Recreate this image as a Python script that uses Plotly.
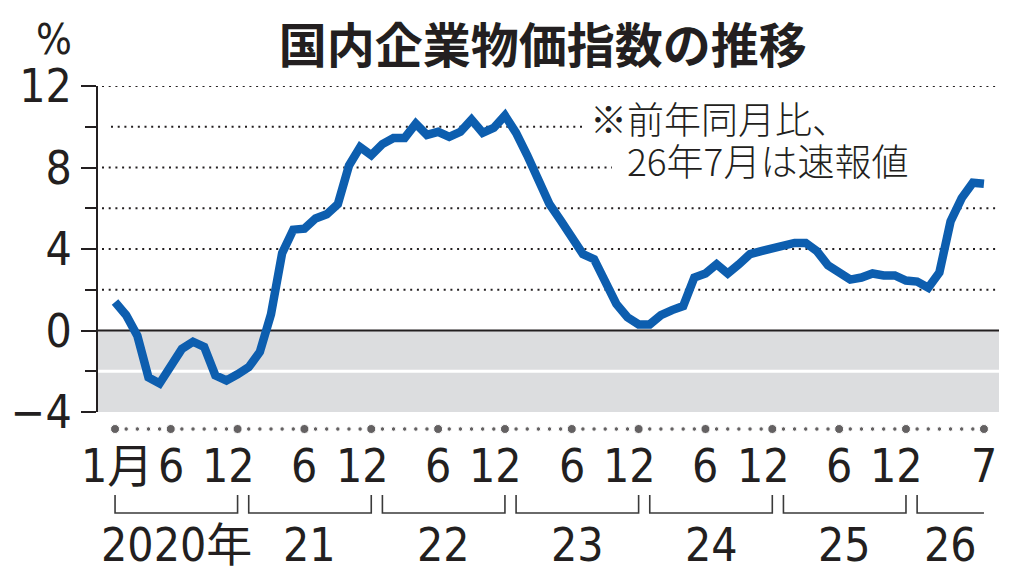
import plotly.graph_objects as go

# 国内企業物価指数 前年同月比(%) 2020年1月〜2026年7月
values = [
    1.4, 0.75, -0.25, -2.3, -2.6, -1.7, -0.9, -0.55, -0.8, -2.2, -2.45, -2.15,   # 2020
    -1.8, -1.05, 0.8, 3.8, 4.95, 5.0, 5.5, 5.7, 6.2, 8.1, 9.0, 8.6,              # 2021
    9.15, 9.45, 9.45, 10.15, 9.6, 9.75, 9.5, 9.75, 10.35, 9.7, 9.95, 10.55,      # 2022
    9.7, 8.6, 7.5, 6.2, 5.4, 4.55, 3.75, 3.5, 2.45, 1.3, 0.65, 0.3,              # 2023
    0.3, 0.75, 1.0, 1.2, 2.6, 2.8, 3.25, 2.8, 3.25, 3.75, 3.9, 4.05,             # 2024
    4.2, 4.3, 4.3, 3.9, 3.2, 2.85, 2.5, 2.6, 2.8, 2.7, 2.7, 2.45,                # 2025
    2.4, 2.1, 2.85, 5.35, 6.5, 7.25, 7.2,                                         # 2026
]
months = list(range(len(values)))

month_ticks = [0, 5, 11, 17, 23, 29, 35, 41, 47, 53, 59, 65, 71, 78]
month_labels = ["1月", "6", "12", "6", "12", "6", "12", "6", "12", "6", "12", "6", "12", "7"]
year_labels = ["2020年", "21", "22", "23", "24", "25", "26"]
year_start = [0, 12, 24, 36, 48, 60, 72]
year_end = [11, 23, 35, 47, 59, 71, 78]

y_major = [12, 8, 4, 0, -4]
y_grid = [2, 4, 6, 8, 10, 12]

BLUE = "#0d5eaf"
INK = "#231f20"
GRAY = "#dcdddf"
NUM_FONT = "Liberation Sans Narrow, DejaVu Sans Condensed, Noto Sans CJK JP, sans-serif"
JP_FONT = "Noto Sans CJK JP, sans-serif"

fig = go.Figure()

# ---- 折れ線 ----
fig.add_trace(go.Scatter(
    x=months, y=values, mode="lines",
    line=dict(color=BLUE, width=8.5, shape="linear"),
    xaxis="x", yaxis="y", hoverinfo="skip", showlegend=False,
))

# ---- 下の目盛り(点) ----
big = set(month_ticks)
fig.add_trace(go.Scatter(
    x=months, y=[-17] * len(months), mode="markers",
    marker=dict(color=INK, size=[9 if m in big else 4.5 for m in months]),
    xaxis="x2", yaxis="y2", hoverinfo="skip", showlegend=False,
))

# ---- 年の括弧 ----
bx, by = [], []
for i, (s, e) in enumerate(zip(year_start, year_end)):
    if i < len(year_start) - 1:
        bx += [s, s, e, e, None]
        by += [-83, -101, -101, -83, None]
    else:
        bx += [s, s, e, None]
        by += [-83, -101, -101, None]
fig.add_trace(go.Scatter(
    x=bx, y=by, mode="lines", line=dict(color="#3a3a3a", width=1.6),
    xaxis="x2", yaxis="y2", hoverinfo="skip", showlegend=False,
))

annotations = []
for m, lab in zip(month_ticks, month_labels):
    annotations.append(dict(
        x=m, y=-54, xref="x2", yref="y2", text=lab, showarrow=False,
        xshift=-9 if lab == "12" else (2 if lab == "1月" else 0),
        yanchor="middle",
        font=dict(family=NUM_FONT, size=46, color=INK),
    ))
for s, e, lab in zip(year_start, year_end, year_labels):
    annotations.append(dict(
        x=(s + e) / 2, y=-133, xref="x2", yref="y2", text=lab, showarrow=False,
        yanchor="middle",
        font=dict(family=NUM_FONT, size=46, color=INK),
    ))

# 注記(行間は基準サイズ32で、文字は37pxで描く)
note = ("<span style='font-size:37px'>※前年同月比、</span><br>"
        "<span style='font-size:37px'>　26年7月は速報値</span>")
annotations.append(dict(
    x=0.5438, y=(567 - 139) / 481, xref="paper", yref="paper", xanchor="left", yanchor="middle",
    text=note, align="left", showarrow=False,
    font=dict(family=JP_FONT, size=32, color=INK, weight=300),
))
# 単位
annotations.append(dict(
    x=-0.049, y=1.097, xref="paper", yref="paper", text="%", showarrow=False,
    xanchor="center", yanchor="middle",
    font=dict(family=NUM_FONT, size=42, color=INK),
))

shapes = [
    dict(type="rect", xref="paper", yref="y", x0=0, x1=1, y0=-4, y1=0,
         fillcolor=GRAY, line=dict(width=0), layer="below"),
    dict(type="line", xref="paper", yref="y", x0=0, x1=1, y0=-2, y1=-2,
         line=dict(color="white", width=3), layer="below"),
    dict(type="line", xref="paper", yref="y", x0=0, x1=1, y0=0, y1=0,
         line=dict(color=INK, width=2), layer="below"),
]
grid_start = {10: 13 / 901}
grid_end = {10: 484 / 901, 8: 514 / 901}
for g in y_grid:
    shapes.append(dict(
        type="line", xref="paper", yref="y",
        x0=grid_start.get(g, 4 / 901), x1=grid_end.get(g, 1),
        y0=g, y1=g, line=dict(color=INK, width=2, dash="2px,4.7px"), layer="below",
    ))

split = (567 - 412) / 481

fig.update_layout(
    width=1024, height=587,
    margin=dict(l=98, r=25, t=86, b=20, autoexpand=False),
    paper_bgcolor="white", plot_bgcolor="white",
    title=dict(text="<b>国内企業物価指数の推移</b>", x=0.53, xanchor="center",
               y=1 - 46 / 587, yanchor="middle",
               font=dict(family=JP_FONT, size=48, color=INK)),
    xaxis=dict(range=[-1.53, 79.35], visible=False, domain=[0, 1], anchor="y"),
    yaxis=dict(
        range=[-4, 12], domain=[split, 1], anchor="x",
        tickvals=y_major, ticks="outside", ticklen=15, tickwidth=2, tickcolor=INK,
        minor=dict(tick0=0, dtick=2, ticks="outside", ticklen=11, tickwidth=2,
                   tickcolor=INK, showgrid=False),
        showgrid=False, zeroline=False, showline=True, linecolor=INK, linewidth=2,
        tickfont=dict(family=NUM_FONT, size=46, color=INK),
    ),
    xaxis2=dict(matches="x", anchor="y2", visible=False, domain=[0, 1]),
    yaxis2=dict(range=[-155, 0], domain=[0, split], anchor="x2", visible=False),
    shapes=shapes,
    annotations=annotations,
    showlegend=False,
)

fig.write_html("out.html", config={"displayModeBar": False},
               post_script="document.body.style.margin='0';")
